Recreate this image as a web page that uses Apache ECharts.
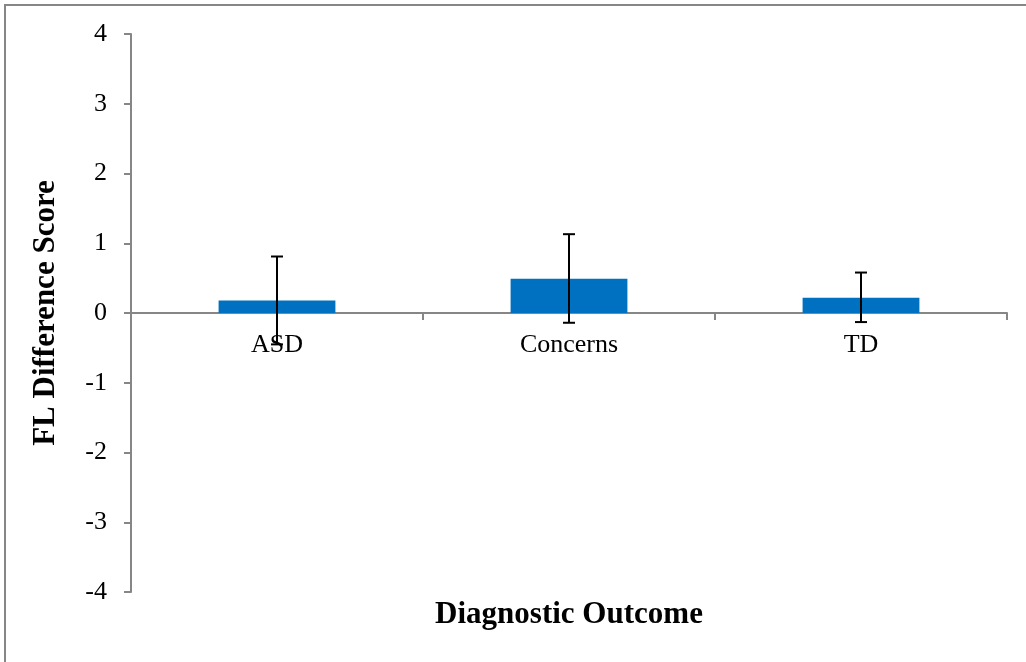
<!DOCTYPE html>
<html>
<head>
<meta charset="utf-8">
<script src="https://cdn.jsdelivr.net/npm/echarts@6/dist/echarts.min.js"></script>
<style>
html,body{margin:0;padding:0;background:#fff;}
#chart{width:1026px;height:662px;}
</style>
</head>
<body>
<div id="chart"></div>
<script>
var categories = ['ASD', 'Concerns', 'TD'];
var meanValues = [0.18, 0.49, 0.22];
var errUpper = [0.81, 1.13, 0.58];
var errLower = [-0.45, -0.14, -0.13];
var yTicks = [-4, -3, -2, -1, 0, 1, 2, 3, 4];

var FONT = "'Liberation Serif', 'Times New Roman', serif";
var AXIS_COLOR = '#868686';

var errData = categories.map(function (c, i) { return [i, errLower[i], errUpper[i]]; });

var chart = echarts.init(document.getElementById('chart'));
chart.setOption({
  animation: false,
  backgroundColor: '#fff',
  grid: { left: 131, right: 19, top: 34, bottom: 70 },
  xAxis: {
    type: 'category',
    data: categories,
    axisLine: { onZero: true, lineStyle: { color: AXIS_COLOR, width: 2 } },
    axisTick: { show: true, length: 7, lineStyle: { color: AXIS_COLOR, width: 2 } },
    axisLabel: { show: false },
    splitLine: { show: false }
  },
  yAxis: {
    type: 'value',
    min: yTicks[0],
    max: yTicks[yTicks.length - 1],
    interval: 1,
    name: 'FL Difference Score',
    nameLocation: 'middle',
    nameRotate: 90,
    nameGap: 70,
    nameTextStyle: { color: '#000', fontFamily: FONT, fontSize: 31, fontWeight: 'bold' },
    axisLine: { show: true, lineStyle: { color: AXIS_COLOR, width: 2 } },
    axisTick: { show: true, length: 7, lineStyle: { color: AXIS_COLOR, width: 2 } },
    axisLabel: { color: '#000', fontFamily: FONT, fontSize: 26, margin: 24 },
    splitLine: { show: false }
  },
  graphic: [
    {
      type: 'rect',
      shape: { x: 5, y: 5, width: 1200, height: 1200 },
      style: { fill: 'none', stroke: AXIS_COLOR, lineWidth: 2 },
      silent: true
    },
    {
      type: 'text',
      x: 569,
      y: 615,
      style: {
        text: 'Diagnostic Outcome',
        fill: '#000',
        font: 'bold 31px ' + FONT,
        textAlign: 'center',
        textVerticalAlign: 'middle'
      },
      silent: true
    }
  ],
  series: [
    {
      type: 'bar',
      data: meanValues,
      barWidth: '40%',
      itemStyle: { color: '#0070C0' },
      label: {
        show: true,
        position: 'bottom',
        distance: 19,
        formatter: '{b}',
        color: '#000',
        fontFamily: FONT,
        fontSize: 26
      },
      z: 2
    },
    {
      type: 'custom',
      data: errData,
      z: 3,
      renderItem: function (params, api) {
        var x = api.value(0);
        var lo = api.coord([x, api.value(1)]);
        var hi = api.coord([x, api.value(2)]);
        var hw = 6;
        var st = { stroke: '#000', lineWidth: 2 };
        return {
          type: 'group',
          children: [
            { type: 'line', shape: { x1: hi[0], y1: hi[1], x2: lo[0], y2: lo[1] }, style: st },
            { type: 'line', shape: { x1: hi[0] - hw, y1: hi[1], x2: hi[0] + hw, y2: hi[1] }, style: st },
            { type: 'line', shape: { x1: lo[0] - hw, y1: lo[1], x2: lo[0] + hw, y2: lo[1] }, style: st }
          ]
        };
      }
    }
  ]
});
</script>
</body>
</html>
